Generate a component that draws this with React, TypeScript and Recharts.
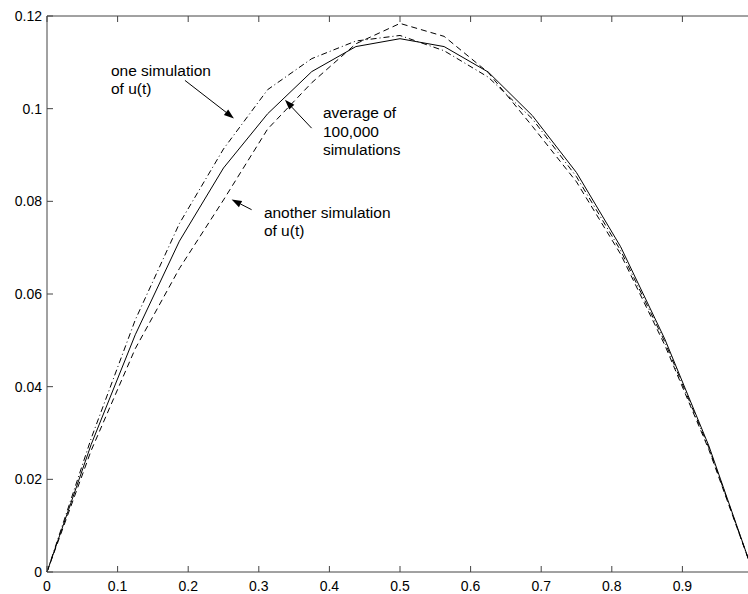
import React from 'react';
import { LineChart, Line, XAxis, YAxis, ReferenceLine, ReferenceDot } from 'recharts';

// sample points t = k/16
const tValues = [0, 0.0625, 0.125, 0.1875, 0.25, 0.3125, 0.375, 0.4375, 0.5, 0.5625, 0.625, 0.6875, 0.75, 0.8125, 0.875, 0.9375, 1];
const averageOf100k = [0, 0.0275, 0.0512, 0.0714, 0.0872, 0.0989, 0.1080, 0.1134, 0.1151, 0.1134, 0.1079, 0.0985, 0.0862, 0.0702, 0.0503, 0.0272, 0];
const oneSimulation = [0, 0.0288, 0.0544, 0.0752, 0.0913, 0.1041, 0.1108, 0.1146, 0.1158, 0.1125, 0.1068, 0.0978, 0.0853, 0.0694, 0.0497, 0.0268, 0];
const anotherSimulation = [0, 0.0262, 0.0482, 0.0655, 0.0803, 0.0956, 0.1056, 0.1140, 0.1184, 0.1156, 0.1078, 0.0962, 0.0842, 0.0686, 0.0490, 0.0264, 0];

const xTicks = [0, 0.1, 0.2, 0.3, 0.4, 0.5, 0.6, 0.7, 0.8, 0.9, 1];
const yTicks = [0, 0.02, 0.04, 0.06, 0.08, 0.1, 0.12];

const notes = [
  { t: 0.0906, v: 0.1071, lines: ['one simulation', 'of u(t)'] },
  { t: 0.3908, v: 0.0979, lines: ['average of', '100,000', 'simulations'] },
  { t: 0.3072, v: 0.0765, lines: ['another simulation', 'of u(t)'] },
];

const arrows = [
  { from: { x: 0.1954, y: 0.1061 }, to: { x: 0.2648, y: 0.0979 } },
  { from: { x: 0.3748, y: 0.0958 }, to: { x: 0.337, y: 0.1019 } },
  { from: { x: 0.2898, y: 0.0782 }, to: { x: 0.2615, y: 0.0804 } },
];

const data = tValues.map((t, i) => ({
  t,
  avg: averageOf100k[i],
  one: oneSimulation[i],
  another: anotherSimulation[i],
}));

const font = '"Liberation Sans", Arial, Helvetica, sans-serif';
const axisColor = '#444';

function Arrow(props: any) {
  const { x1, y1, x2, y2 } = props;
  const a = Math.atan2(y2 - y1, x2 - x1);
  const len = 10;
  const w = 3.5;
  const bx = x2 - len * Math.cos(a);
  const by = y2 - len * Math.sin(a);
  const px = -Math.sin(a) * w;
  const py = Math.cos(a) * w;
  return (
    <g>
      <line x1={x1} y1={y1} x2={bx} y2={by} stroke="#000" strokeWidth={1} />
      <polygon points={`${x2},${y2} ${bx + px},${by + py} ${bx - px},${by - py}`} fill="#000" />
    </g>
  );
}

function noteShape(lines: string[]) {
  return (props: any) => (
    <text x={props.cx} y={props.cy} fontFamily={font} fontSize={15.5} fill="#000">
      {lines.map((l, i) => (
        <tspan key={i} x={props.cx} dy={i === 0 ? 0 : 18.3}>{l}</tspan>
      ))}
    </text>
  );
}

const fmt = (v: number) => String(+v.toFixed(2));
// the right end of the frame lies past the picture edge, so its label is not shown
const fmtX = (v: number) => (v >= 1 ? '' : fmt(v));

export default function App() {
  return (
    <div style={{ position: 'absolute', left: 0, top: 0, width: 748, height: 594, overflow: 'hidden', background: '#fff' }}>
      <LineChart width={760} height={594} data={data} margin={{ top: 0, right: 0, bottom: 0, left: 7 }}>
        <XAxis
          dataKey="t"
          type="number"
          domain={[0, 1]}
          ticks={xTicks}
          tickFormatter={fmtX}
          height={22}
          stroke={axisColor}
          tickSize={-6}
          tickMargin={15}
          tick={{ fill: '#000', fontSize: 14, fontFamily: font }}
        />
        <XAxis
          xAxisId="top"
          orientation="top"
          dataKey="t"
          type="number"
          domain={[0, 1]}
          ticks={xTicks}
          tickFormatter={() => ''}
          height={16}
          stroke={axisColor}
          tickSize={-6}
        />
        <YAxis
          type="number"
          domain={[0, 0.12]}
          ticks={yTicks}
          tickFormatter={fmt}
          width={40}
          stroke={axisColor}
          tickSize={-6}
          tickMargin={11}
          tick={{ fill: '#000', fontSize: 14, fontFamily: font }}
        />
        <YAxis
          yAxisId="right"
          orientation="right"
          type="number"
          domain={[0, 0.12]}
          ticks={yTicks}
          tickFormatter={() => ''}
          width={7}
          stroke={axisColor}
          tickSize={-6}
        />
        <Line dataKey="one" stroke="#000" strokeWidth={1} strokeDasharray="6 3 1 3" dot={false} isAnimationActive={false} />
        <Line dataKey="another" stroke="#000" strokeWidth={1} strokeDasharray="6 4" dot={false} isAnimationActive={false} />
        <Line dataKey="avg" stroke="#000" strokeWidth={1} dot={false} isAnimationActive={false} />
        {arrows.map((a, i) => (
          <ReferenceLine key={`arrow-${i}`} segment={[a.from, a.to]} shape={Arrow} />
        ))}
        {notes.map((n, i) => (
          <ReferenceDot key={`note-${i}`} x={n.t} y={n.v} r={0} shape={noteShape(n.lines)} />
        ))}
      </LineChart>
    </div>
  );
}
